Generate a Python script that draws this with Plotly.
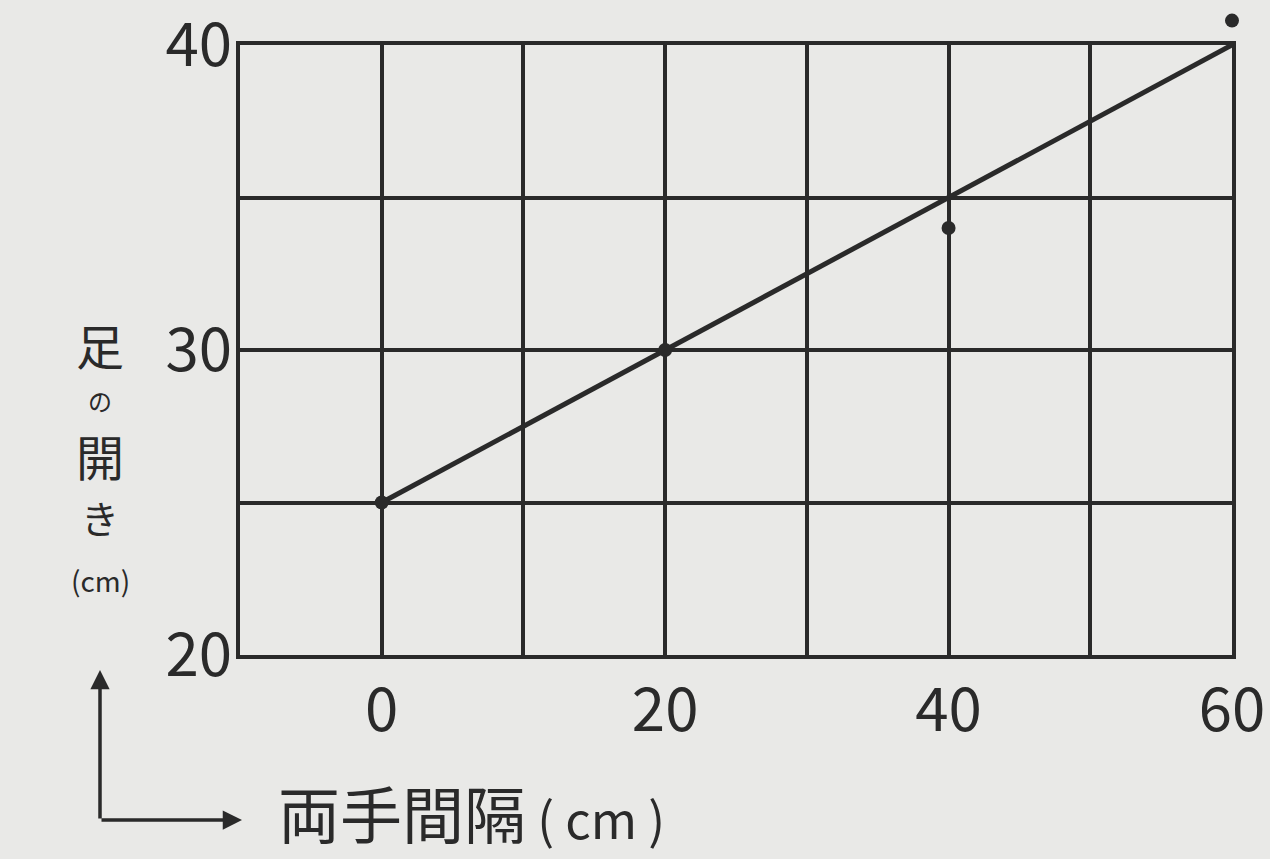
import plotly.graph_objects as go

# Data
hand_gap = [0, 20, 40, 60]          # 両手間隔 (cm)
foot_open = [25, 30, 34.0, 40.8]    # 足の開き (cm), measured points
fit_x = [0, 60]
fit_y = [25, 40]

x_ticks = [0, 20, 40, 60]
y_ticks = [20, 30, 40]

INK = "#2a2a2a"
BG = "#e9e9e7"
FONT = "Noto Sans CJK JP"

W, H = 1270, 859
ML, MR, MT, MB = 240, 38, 10, 204
PW, PH = W - ML - MR, H - MT - MB
FRAME_TOP = 45                     # pixel row of the top frame line
d_top = (H - MB - FRAME_TOP) / PH  # domain fraction of the framed grid
X_RANGE = [-10, 60]
Y_RANGE = [20, 40]
Y2_RANGE = [Y_RANGE[0], Y_RANGE[0] + (Y_RANGE[1] - Y_RANGE[0]) / d_top]


def px(xp):
    return (xp - ML) / PW


def py(yp):
    return (H - MB - yp) / PH


fig = go.Figure()
# empty trace so the framed grid subplot (x, y) is drawn
fig.add_trace(go.Scatter(x=[], y=[], xaxis="x", yaxis="y", showlegend=False, hoverinfo="skip"))
fig.add_trace(go.Scatter(x=fit_x, y=fit_y, mode="lines", xaxis="x2", yaxis="y2",
                         line=dict(color=INK, width=5), showlegend=False, cliponaxis=False))
fig.add_trace(go.Scatter(x=hand_gap, y=foot_open, mode="markers", xaxis="x2", yaxis="y2",
                         marker=dict(color=INK, size=14), showlegend=False,
                         cliponaxis=False))

grid = dict(showgrid=True, gridcolor=INK, gridwidth=3.5,
            showline=True, linecolor=INK, linewidth=4, mirror=True,
            zeroline=False, ticks="", ticklabeloverflow="allow", automargin=False)

fig.update_layout(
    width=W, height=H,
    margin=dict(l=ML, r=MR, t=MT, b=MB, autoexpand=False),
    paper_bgcolor=BG, plot_bgcolor="rgba(0,0,0,0)",
    font=dict(family=FONT, color=INK, size=60),
    xaxis=dict(range=X_RANGE, tickvals=x_ticks, ticktext=[str(v) for v in x_ticks],
               ticklabelstandoff=0, anchor="y",
               minor=dict(tickvals=[-10, 10, 30, 50], showgrid=True, gridcolor=INK, gridwidth=3.5),
               **grid),
    yaxis=dict(range=Y_RANGE, tickvals=y_ticks, ticktext=[str(v) for v in y_ticks],
               ticklabelstandoff=-8, domain=[0, d_top], anchor="x",
               minor=dict(tickvals=[25, 35], showgrid=True, gridcolor=INK, gridwidth=3.5),
               **grid),
    xaxis2=dict(range=X_RANGE, domain=[0, 1], anchor="y2", visible=False, showgrid=False),
    yaxis2=dict(range=Y2_RANGE, domain=[0, 1], anchor="x2", visible=False, showgrid=False),
)

# Y-axis title (vertical, stacked characters)
for ch, yc, sz in [("足", 344, 48), ("の", 401, 24), ("開", 455, 48), ("き", 516, 38), ("(cm)", 580, 28)]:
    fig.add_annotation(xref="paper", yref="paper", x=px(100), y=py(yc),
                       xanchor="center", yanchor="middle", text=ch, showarrow=False,
                       font=dict(size=sz))

# X-axis title
fig.add_annotation(xref="paper", yref="paper", x=px(276), y=py(812), xanchor="left", yanchor="middle",
                   text="両手間隔<span style='font-size:50px'> ( cm )</span>",
                   showarrow=False, font=dict(size=62))

# Corner arrow indicator
fig.add_annotation(xref="paper", yref="paper", x=px(100), y=py(670), ax=0, ay=150,
                   showarrow=True, arrowhead=2, arrowsize=1.1,
                   arrowwidth=3.5, arrowcolor=INK, text="")
fig.add_annotation(xref="paper", yref="paper", x=px(242), y=py(820), ax=-142, ay=0,
                   showarrow=True, arrowhead=2, arrowsize=1.1,
                   arrowwidth=3.5, arrowcolor=INK, text="")

fig.write_html("out.html", config={"displayModeBar": False},
               post_script="document.body.style.margin='0';")
